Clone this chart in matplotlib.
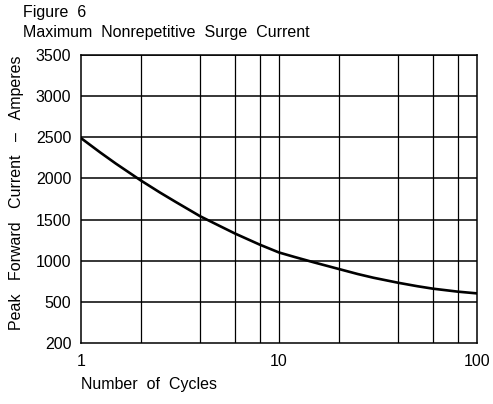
import matplotlib
matplotlib.use("Agg")
import matplotlib.pyplot as plt

# curve
cycles = [1, 1.25, 1.5, 2, 2.5, 3, 4, 5, 6, 8, 10, 12, 15, 20, 25, 30, 40, 50, 60, 80, 100]
peak_current = [2490, 2316, 2180, 1977, 1830, 1716, 1540, 1424, 1330, 1195, 1100,
                1045, 980, 900, 838, 793, 732, 690, 660, 624, 603]

x_grid = [2, 4, 6, 8, 10, 20, 40, 60, 80]
x_ticks = [1, 10, 100]
x_tick_labels = ['1', '10', '100']
y_ticks = [0, 500, 1000, 1500, 2000, 2500, 3000, 3500]
y_tick_labels = ['200', '500', '1000', '1500', '2000', '2500', '3000', '3500']

plt.rcParams['font.family'] = ['Liberation Sans', 'DejaVu Sans']

fig = plt.figure(figsize=(4.93, 4.04), dpi=100)
ax = fig.add_axes([81/493, 1-343/404, 396/493, 288/404])

ax.set_xscale('log')
ax.set_xlim(1, 100)
ax.set_ylim(0, 3500)

for xv in x_grid:
    ax.axvline(xv, color='black', lw=0.9, zorder=1)
for yv in y_ticks[1:]:
    ax.axhline(yv, color='black', lw=1.1, zorder=1)

ax.plot(cycles, peak_current, color='black', lw=1.9, zorder=3)

ax.set_xticks(x_ticks)
ax.set_xticklabels(x_tick_labels)
ax.set_xticks([], minor=True)
ax.set_yticks(y_ticks)
ax.set_yticklabels(y_tick_labels)
ax.tick_params(length=0, labelsize=11.5)
ax.tick_params(axis='x', pad=8)
ax.tick_params(axis='y', pad=7)
for s in ax.spines.values():
    s.set_linewidth(1.1)

fig.text(23/493, 1-13/404, 'Figure  6', fontsize=11.5, va='center', ha='left')
fig.text(23/493, 1-33/404, 'Maximum  Nonrepetitive  Surge  Current', fontsize=11.5,
         va='center', ha='left')
fig.text(81/493, 1-385/404, 'Number  of  Cycles', fontsize=11.5, va='center', ha='left')
fig.text(17/493, 1-193/404, 'Peak   Forward   Current   \u2013   Amperes', fontsize=11.5,
         rotation=90, va='center', ha='center')

fig.savefig('out.png', dpi=100)
